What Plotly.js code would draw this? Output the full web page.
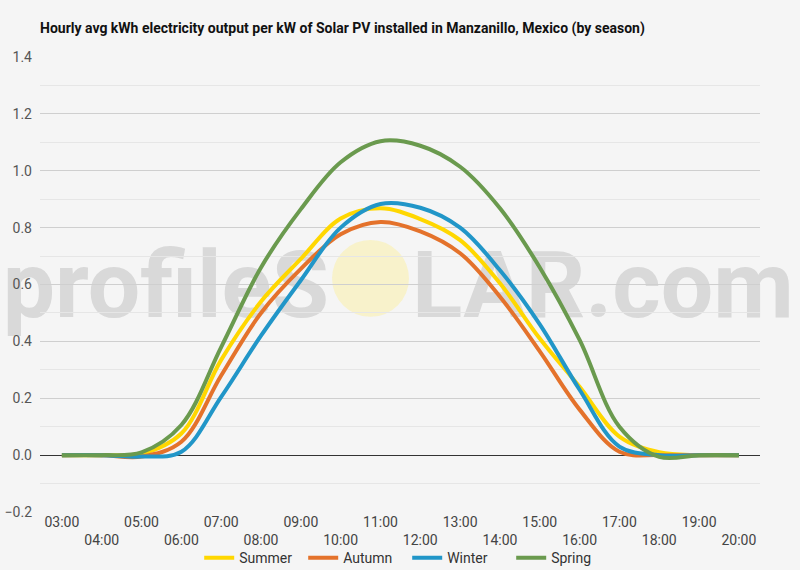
<!DOCTYPE html>
<html>
<head>
<meta charset="utf-8">
<script src="https://cdn.plot.ly/plotly-3.0.1.min.js"></script>
<style>
  html, body { margin: 0; padding: 0; background: #f5f5f5; }
  #chart { width: 800px; height: 570px; }
</style>
</head>
<body>
<div id="chart"></div>
<script>
// hours of the day, 03:00 .. 20:00
const hours = [3, 4, 5, 6, 7, 8, 9, 10, 11, 12, 13, 14, 15, 16, 17, 18, 19, 20];

const summer = [0, 0, 0.005, 0.076, 0.335, 0.54, 0.69, 0.832, 0.868, 0.83, 0.756, 0.604, 0.41, 0.24, 0.065, 0.01, 0, 0];
const autumn = [0, 0, -0.005, 0.047, 0.28, 0.50, 0.655, 0.777, 0.82, 0.787, 0.71, 0.557, 0.365, 0.16, 0.012, 0, 0, 0];
const winter = [0, 0, -0.005, 0.012, 0.205, 0.42, 0.615, 0.80, 0.883, 0.87, 0.80, 0.65, 0.46, 0.23, 0.03, 0, 0, 0];
const spring = [0, 0, 0.01, 0.106, 0.38, 0.66, 0.865, 1.03, 1.104, 1.088, 1.014, 0.868, 0.66, 0.405, 0.10, -0.006, 0, 0];

const seasons = ['Summer', 'Autumn', 'Winter', 'Spring'];
const colors = ['#FFD700', '#E4722B', '#2196C8', '#6A9A4E'];

function hourLabel(h) {
    return String(h).padStart(2, '0') + ':00';
}

const oddHours = hours.filter(h => h % 2 === 1);
const evenHours = hours.filter(h => h % 2 === 0);

const data = [summer, autumn, winter, spring].map((vals, i) => ({
    type: 'scatter',
    mode: 'lines',
    x: hours,
    y: vals,
    name: seasons[i],
    line: { color: colors[i], width: 4, shape: 'spline', smoothing: 1 },
    hoverinfo: 'x+y+name'
}));

// invisible copy on the second x axis so the even-hour labels get drawn
data.unshift({
    type: 'scatter',
    mode: 'lines',
    x: hours,
    y: summer,
    xaxis: 'x2',
    line: { color: 'rgba(0,0,0,0)', width: 0 },
    showlegend: false,
    hoverinfo: 'skip'
});

const xRange = [2.45, 20.53];
const tickFont = { family: 'Roboto, sans-serif', size: 14, color: '#444' };
const markFont = { family: 'Roboto, sans-serif', size: 93, weight: 'bold', color: 'rgba(170,170,170,0.38)' };

const layout = {
    width: 800,
    height: 570,
    paper_bgcolor: '#f5f5f5',
    plot_bgcolor: '#f5f5f5',
    margin: { l: 40, r: 40, t: 57, b: 58, autoexpand: false },
    title: {
        text: '<b>Hourly avg kWh electricity output per kW of Solar PV installed in Manzanillo, Mexico (by season)</b>',
        font: { family: 'Roboto, sans-serif', size: 14, color: '#111' },
        x: 0.05,
        xanchor: 'left',
        xref: 'container',
        y: 0.951,
        yanchor: 'middle'
    },
    xaxis: {
        range: xRange,
        tickmode: 'array',
        tickvals: oddHours,
        ticktext: oddHours.map(hourLabel),
        showgrid: false,
        zeroline: false,
        showline: false,
        ticks: '',
        tickfont: tickFont,
        fixedrange: true
    },
    xaxis2: {
        range: xRange,
        overlaying: 'x',
        anchor: 'y',
        side: 'bottom',
        tickmode: 'array',
        tickvals: evenHours,
        ticktext: evenHours.map(hourLabel),
        ticklabelstandoff: 18,
        showgrid: false,
        zeroline: false,
        showline: false,
        ticks: '',
        tickfont: tickFont,
        fixedrange: true
    },
    yaxis: {
        range: [-0.2, 1.4],
        dtick: 0.2,
        tickformat: '.1f',
        showgrid: true,
        gridcolor: '#cfcfcf',
        gridwidth: 1,
        minor: { dtick: 0.1, showgrid: true, gridcolor: '#e6e6e6', gridwidth: 1 },
        zeroline: true,
        zerolinecolor: '#333',
        zerolinewidth: 1,
        ticks: '',
        ticklabelstandoff: 7,
        tickfont: { family: 'Roboto, sans-serif', size: 14, color: '#555' },
        fixedrange: true
    },
    showlegend: true,
    legend: {
        orientation: 'h',
        x: 0.509,
        xanchor: 'center',
        xref: 'container',
        y: 0.021,
        yanchor: 'middle',
        yref: 'container',
        bgcolor: 'rgba(0,0,0,0)',
        font: { family: 'Roboto, sans-serif', size: 14, color: '#333' },
        itemwidth: 30,
        entrywidth: 59,
        traceorder: 'normal'
    },
    shapes: [
        // watermark: "profileS" + sun + "LAR.com"
        {
            type: 'rect', xref: 'paper', yref: 'paper', layer: 'between',
            x0: -0.0556, x1: 0.4056, y0: 0.429, y1: 0.598,
            line: { width: 0 }, fillcolor: 'rgba(0,0,0,0)',
            label: { text: 'profileS', textposition: 'middle right', padding: 0, font: markFont }
        },
        {
            type: 'circle', xref: 'paper', yref: 'paper', layer: 'between',
            x0: 0.4056, x1: 0.5125, y0: 0.429, y1: 0.598,
            line: { width: 0 }, fillcolor: 'rgba(250,240,175,0.6)'
        },
        {
            type: 'rect', xref: 'paper', yref: 'paper', layer: 'between',
            x0: 0.5125, x1: 1.0556, y0: 0.429, y1: 0.598,
            line: { width: 0 }, fillcolor: 'rgba(0,0,0,0)',
            label: { text: 'LAR.com', textposition: 'middle left', padding: 0, font: markFont }
        }
    ],
    hovermode: 'closest'
};

Plotly.newPlot('chart', data, layout, { displayModeBar: false, staticPlot: true });
</script>
</body>
</html>
